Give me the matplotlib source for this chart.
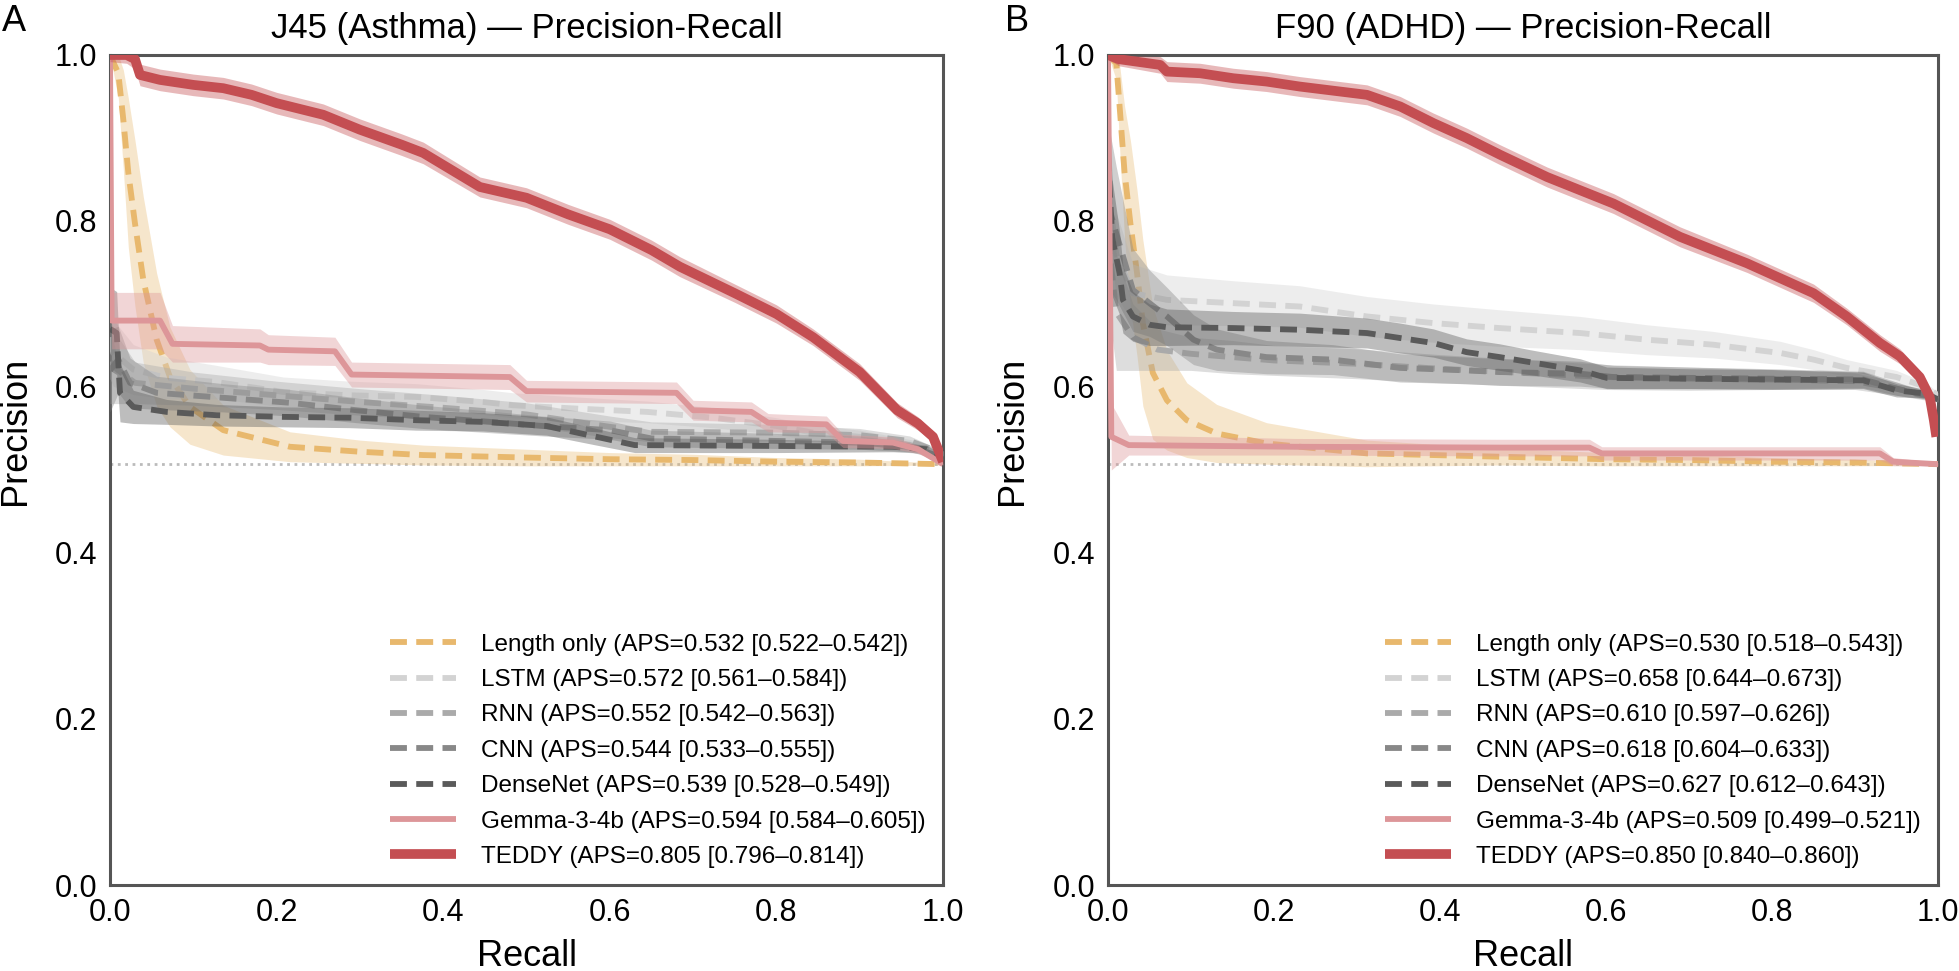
import matplotlib
matplotlib.use('Agg')
import matplotlib.pyplot as plt
import numpy as np

plt.rcParams['font.family'] = ['Liberation Sans', 'DejaVu Sans']

# ---- Panel A: J45 (Asthma) ----
A_len_r = [0, 0.01, 0.016, 0.022, 0.03, 0.04, 0.056, 0.072, 0.096, 0.136, 0.216, 0.3, 0.376, 0.5, 0.6, 0.7, 0.8, 0.9, 1.0]
A_len_p = [1.0, 0.978, 0.922, 0.858, 0.797, 0.729, 0.657, 0.612, 0.576, 0.548, 0.528, 0.522, 0.518, 0.515, 0.513, 0.512, 0.510, 0.509, 0.507]
A_len_w = [0.0, 0.03, 0.06, 0.09, 0.1, 0.1, 0.08, 0.06, 0.045, 0.03, 0.018, 0.014, 0.012, 0.01, 0.008, 0.007, 0.005, 0.004, 0.001]

A_lstm_r = [0, 0.004, 0.028, 0.068, 0.128, 0.208, 0.288, 0.368, 0.448, 0.484, 0.56, 0.645, 0.724, 0.8, 0.844, 0.9, 0.964, 1.0]
A_lstm_p = [0.66, 0.641, 0.621, 0.611, 0.606, 0.594, 0.590, 0.588, 0.582, 0.578, 0.574, 0.570, 0.563, 0.553, 0.545, 0.540, 0.530, 0.520]
A_lstm_w = [0.05, 0.04, 0.03, 0.025, 0.02, 0.018, 0.017, 0.016, 0.015, 0.015, 0.014, 0.013, 0.012, 0.01, 0.009, 0.008, 0.006, 0.003]

A_rnn_r = [0, 0.01, 0.03, 0.1, 0.2, 0.3, 0.4, 0.5, 0.6, 0.65, 0.8, 0.9, 0.96, 1.0]
A_rnn_p = [0.63, 0.62, 0.605, 0.598, 0.590, 0.582, 0.575, 0.567, 0.552, 0.546, 0.545, 0.542, 0.535, 0.520]
A_rnn_w = [0.05, 0.04, 0.025, 0.02, 0.017, 0.016, 0.015, 0.014, 0.013, 0.012, 0.01, 0.008, 0.006, 0.003]

A_cnn_r = [0, 0.01, 0.024, 0.056, 0.136, 0.216, 0.296, 0.376, 0.456, 0.52, 0.6, 0.65, 0.8, 0.9, 0.96, 1.0]
A_cnn_p = [0.62, 0.633, 0.605, 0.593, 0.587, 0.581, 0.572, 0.564, 0.558, 0.553, 0.548, 0.538, 0.535, 0.533, 0.528, 0.515]
A_cnn_w = [0.05, 0.04, 0.03, 0.02, 0.017, 0.016, 0.015, 0.014, 0.013, 0.012, 0.011, 0.01, 0.009, 0.008, 0.006, 0.003]

A_dense_r = [0, 0.008, 0.012, 0.028, 0.068, 0.128, 0.208, 0.288, 0.368, 0.448, 0.524, 0.584, 0.63, 0.8, 0.94, 0.98, 1.0]
A_dense_p = [0.67, 0.665, 0.593, 0.576, 0.570, 0.566, 0.564, 0.563, 0.560, 0.558, 0.553, 0.540, 0.530, 0.529, 0.528, 0.525, 0.515]
A_dense_w = [0.05, 0.05, 0.035, 0.02, 0.015, 0.013, 0.012, 0.012, 0.012, 0.011, 0.011, 0.01, 0.009, 0.008, 0.006, 0.005, 0.003]

A_gem_r = [0, 0.002, 0.06, 0.075, 0.18, 0.19, 0.27, 0.29, 0.48, 0.50, 0.68, 0.70, 0.77, 0.79, 0.86, 0.88, 0.94, 0.97, 1.0]
A_gem_p = [1.0, 0.68, 0.68, 0.652, 0.650, 0.645, 0.643, 0.615, 0.612, 0.595, 0.593, 0.572, 0.570, 0.557, 0.555, 0.535, 0.533, 0.525, 0.507]
A_gem_w = [0.0, 0.034, 0.034, 0.022, 0.02, 0.018, 0.017, 0.015, 0.015, 0.013, 0.013, 0.012, 0.012, 0.011, 0.01, 0.008, 0.007, 0.005, 0.001]

A_ted_r = [0, 0.02, 0.03, 0.036, 0.06, 0.1, 0.136, 0.17, 0.2, 0.256, 0.3, 0.35, 0.376, 0.444, 0.5, 0.55, 0.6, 0.65, 0.684, 0.75, 0.8, 0.844, 0.9, 0.945, 0.97, 0.988, 1.0]
A_ted_p = [1.0, 1.0, 0.995, 0.976, 0.970, 0.964, 0.960, 0.952, 0.942, 0.928, 0.910, 0.892, 0.882, 0.841, 0.828, 0.808, 0.790, 0.765, 0.745, 0.713, 0.688, 0.660, 0.618, 0.572, 0.556, 0.540, 0.510]
A_ted_w = [0.008, 0.01, 0.012, 0.013, 0.013, 0.013, 0.013, 0.013, 0.013, 0.013, 0.013, 0.013, 0.013, 0.012, 0.012, 0.012, 0.012, 0.012, 0.012, 0.011, 0.011, 0.01, 0.01, 0.009, 0.008, 0.006, 0.003]

A_labels = ['Length only (APS=0.532 [0.522–0.542])',
            'LSTM (APS=0.572 [0.561–0.584])',
            'RNN (APS=0.552 [0.542–0.563])',
            'CNN (APS=0.544 [0.533–0.555])',
            'DenseNet (APS=0.539 [0.528–0.549])',
            'Gemma-3-4b (APS=0.594 [0.584–0.605])',
            'TEDDY (APS=0.805 [0.796–0.814])']

# ---- Panel B: F90 (ADHD) ----
B_len_r = [0, 0.01, 0.014, 0.020, 0.027, 0.035, 0.042, 0.054, 0.071, 0.095, 0.131, 0.191, 0.312, 0.472, 0.6, 0.7, 0.8, 0.9, 1.0]
B_len_p = [1.0, 0.990, 0.938, 0.858, 0.797, 0.737, 0.677, 0.617, 0.584, 0.560, 0.544, 0.532, 0.520, 0.516, 0.513, 0.512, 0.510, 0.509, 0.507]
B_len_w = [0.0, 0.02, 0.05, 0.08, 0.1, 0.1, 0.1, 0.08, 0.06, 0.045, 0.035, 0.025, 0.016, 0.01, 0.008, 0.007, 0.005, 0.004, 0.001]

B_lstm_r = [0, 0.01, 0.03, 0.071, 0.151, 0.231, 0.312, 0.392, 0.472, 0.569, 0.649, 0.729, 0.810, 0.850, 0.890, 0.950, 0.986, 1.0]
B_lstm_p = [0.84, 0.76, 0.713, 0.705, 0.701, 0.697, 0.685, 0.677, 0.671, 0.665, 0.657, 0.651, 0.641, 0.633, 0.623, 0.612, 0.600, 0.590]
B_lstm_w = [0.05, 0.05, 0.035, 0.03, 0.027, 0.025, 0.024, 0.023, 0.022, 0.02, 0.018, 0.016, 0.014, 0.012, 0.01, 0.008, 0.005, 0.003]

B_rnn_r = [0, 0.01, 0.03, 0.06, 0.1, 0.15, 0.2, 0.3, 0.4, 0.5, 0.6, 0.7, 0.8, 0.9, 0.95, 0.98, 1.0]
B_rnn_p = [0.78, 0.69, 0.66, 0.645, 0.640, 0.636, 0.632, 0.628, 0.622, 0.617, 0.612, 0.610, 0.609, 0.607, 0.598, 0.590, 0.585]
B_rnn_w = [0.08, 0.07, 0.04, 0.025, 0.02, 0.02, 0.018, 0.018, 0.017, 0.016, 0.015, 0.014, 0.012, 0.01, 0.008, 0.005, 0.003]

B_cnn_r = [0, 0.01, 0.03, 0.05, 0.071, 0.103, 0.131, 0.191, 0.271, 0.352, 0.432, 0.472, 0.569, 0.609, 0.7, 0.8, 0.91, 0.95, 0.986, 1.0]
B_cnn_p = [0.82, 0.785, 0.717, 0.701, 0.685, 0.657, 0.645, 0.636, 0.633, 0.623, 0.620, 0.618, 0.616, 0.612, 0.611, 0.610, 0.609, 0.598, 0.590, 0.585]
B_cnn_w = [0.1, 0.08, 0.05, 0.04, 0.035, 0.03, 0.025, 0.02, 0.018, 0.017, 0.016, 0.016, 0.015, 0.014, 0.013, 0.012, 0.01, 0.008, 0.005, 0.003]

B_dense_r = [0, 0.005, 0.014, 0.018, 0.03, 0.05, 0.071, 0.151, 0.231, 0.312, 0.352, 0.392, 0.432, 0.472, 0.508, 0.569, 0.601, 0.7, 0.8, 0.91, 0.95, 0.986, 1.0]
B_dense_p = [0.88, 0.78, 0.737, 0.705, 0.685, 0.675, 0.672, 0.671, 0.669, 0.665, 0.659, 0.653, 0.642, 0.636, 0.630, 0.620, 0.611, 0.610, 0.609, 0.608, 0.596, 0.592, 0.585]
B_dense_w = [0.08, 0.07, 0.05, 0.04, 0.03, 0.025, 0.022, 0.02, 0.02, 0.018, 0.018, 0.017, 0.016, 0.016, 0.015, 0.014, 0.013, 0.012, 0.012, 0.01, 0.008, 0.005, 0.003]

B_gem_r = [0, 0.004, 0.025, 0.225, 0.47, 0.58, 0.595, 0.93, 0.946, 1.0]
B_gem_p = [1.0, 0.540, 0.530, 0.528, 0.527, 0.527, 0.520, 0.520, 0.510, 0.507]
B_gem_w = [0.0, 0.04, 0.012, 0.01, 0.01, 0.01, 0.008, 0.008, 0.005, 0.002]

B_ted_r = [0, 0.013, 0.063, 0.071, 0.111, 0.151, 0.191, 0.231, 0.312, 0.352, 0.392, 0.432, 0.472, 0.529, 0.609, 0.689, 0.770, 0.850, 0.890, 0.930, 0.954, 0.978, 0.990, 0.995, 0.998]
B_ted_p = [1.0, 0.995, 0.988, 0.980, 0.978, 0.972, 0.968, 0.962, 0.952, 0.938, 0.918, 0.900, 0.880, 0.853, 0.821, 0.781, 0.749, 0.713, 0.685, 0.653, 0.637, 0.612, 0.588, 0.560, 0.540]
B_ted_w = [0.005, 0.008, 0.01, 0.012, 0.012, 0.012, 0.012, 0.012, 0.012, 0.012, 0.012, 0.012, 0.012, 0.012, 0.012, 0.012, 0.011, 0.011, 0.01, 0.01, 0.009, 0.008, 0.006, 0.004, 0.003]

B_labels = ['Length only (APS=0.530 [0.518–0.543])',
            'LSTM (APS=0.658 [0.644–0.673])',
            'RNN (APS=0.610 [0.597–0.626])',
            'CNN (APS=0.618 [0.604–0.633])',
            'DenseNet (APS=0.627 [0.612–0.643])',
            'Gemma-3-4b (APS=0.509 [0.499–0.521])',
            'TEDDY (APS=0.850 [0.840–0.860])']

prevalence = [0.507, 0.507]

colors = ['#e8b86d', '#d3d3d3', '#aaaaaa', '#888888', '#5a5a5a', '#dd9699', '#c44e52']
styles = ['--', '--', '--', '--', '--', '-', '-']
widths = [4.2, 4.2, 4.2, 4.2, 4.2, 4.2, 7.0]
band_alpha = [0.35, 0.4, 0.4, 0.4, 0.4, 0.4, 0.4]

panels = [
    ('A', 'J45 (Asthma) — Precision-Recall', A_labels,
     [(A_len_r, A_len_p, A_len_w), (A_lstm_r, A_lstm_p, A_lstm_w), (A_rnn_r, A_rnn_p, A_rnn_w),
      (A_cnn_r, A_cnn_p, A_cnn_w), (A_dense_r, A_dense_p, A_dense_w), (A_gem_r, A_gem_p, A_gem_w),
      (A_ted_r, A_ted_p, A_ted_w)]),
    ('B', 'F90 (ADHD) — Precision-Recall', B_labels,
     [(B_len_r, B_len_p, B_len_w), (B_lstm_r, B_lstm_p, B_lstm_w), (B_rnn_r, B_rnn_p, B_rnn_w),
      (B_cnn_r, B_cnn_p, B_cnn_w), (B_dense_r, B_dense_p, B_dense_w), (B_gem_r, B_gem_p, B_gem_w),
      (B_ted_r, B_ted_p, B_ted_w)]),
]

fig = plt.figure(figsize=(19.59, 9.71), dpi=100)
lefts = [110 / 1959, 1108 / 1959]
ax_w = [833 / 1959, 830 / 1959]
letter_x = [0.001, 0.513]
ylab_x = [-0.092, -0.094]

for i, (letter, title, labels, series) in enumerate(panels):
    ax = fig.add_axes([lefts[i], 1 - 885 / 971, ax_w[i], 830 / 971])
    ax.plot([0, 1], prevalence, color='#bbbbbb', lw=2, ls=':', zorder=1)
    for j, (r, p, w) in enumerate(series):
        r = np.array(r)
        p = np.array(p)
        w = np.array(w)
        ax.fill_between(r, np.clip(p - w, 0, 1), np.clip(p + w, 0, 1),
                        color=colors[j], alpha=band_alpha[j], lw=0, zorder=2 + j)
        line, = ax.plot(r, p, color=colors[j], ls=styles[j], lw=widths[j], label=labels[j],
                        zorder=3 + j, solid_capstyle='butt')
        if styles[j] == '--':
            line.set_dashes((2.9, 1.6))
    ax.set_xlim(0, 1)
    ax.set_ylim(0, 1)
    ax.set_xticks(np.arange(0, 1.01, 0.2))
    ax.set_yticks(np.arange(0, 1.01, 0.2))
    ax.tick_params(length=0, labelsize=22, pad=9)
    ax.set_xlabel('Recall', fontsize=26, labelpad=8)
    ax.set_ylabel('Precision', fontsize=26)
    ax.yaxis.set_label_coords(ylab_x[i], 0.547)
    ax.set_title(title, fontsize=25, pad=12)
    for s in ax.spines.values():
        s.set_color('#555555')
        s.set_linewidth(2.2)
    ax.legend(loc='lower right', frameon=False, fontsize=17.5, handlelength=2.7,
              handletextpad=1.05, labelspacing=0.55, borderaxespad=0.3)
    fig.text(letter_x[i], 0.996, letter, fontsize=26, va='top', ha='left')

plt.savefig('out.png', dpi=100)
plt.close()
